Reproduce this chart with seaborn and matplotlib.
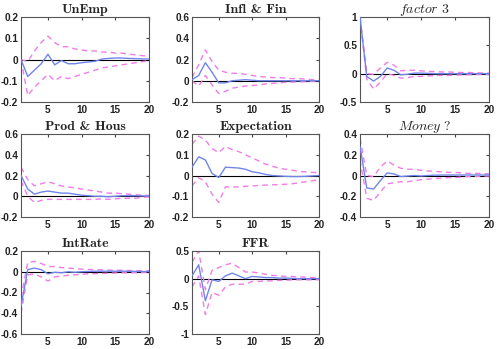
import numpy as np
import pandas as pd
import matplotlib
matplotlib.use("Agg")
import matplotlib.pyplot as plt
import seaborn as sns

horizon = list(range(1, 21))

titles = ["UnEmp", "Infl & Fin", "factor 3", "Prod & Hous", "Expectation",
          "Money ?", "IntRate", "FFR"]
italic_titles = ["factor 3", "Money ?"]

unemp_mid = [0, -0.08, -0.05, -0.02, 0.025, -0.025, -0.005, -0.02, -0.02, -0.015,
             -0.012, -0.008, 0.002, 0.005, 0.007, 0.007, 0.005, 0.004, 0.003, 0.002]
unemp_up = [0, -0.01, 0.04, 0.08, 0.11, 0.08, 0.06, 0.06, 0.05, 0.045,
            0.04, 0.04, 0.035, 0.035, 0.03, 0.03, 0.025, 0.022, 0.018, 0.015]
unemp_lo = [0, -0.17, -0.13, -0.10, -0.07, -0.10, -0.08, -0.09, -0.08, -0.07,
            -0.06, -0.05, -0.04, -0.035, -0.03, -0.025, -0.02, -0.015, -0.01, -0.005]

infl_mid = [0.01, 0.05, 0.17, 0.08, -0.02, -0.02, 0.0, 0.005, 0.01, 0.005,
            0.0, 0.0, 0.0, 0.0, 0.0, 0.0, 0.0, 0.0, 0.0, 0.0]
infl_up = [0.03, 0.15, 0.29, 0.18, 0.10, 0.08, 0.07, 0.07, 0.06, 0.05,
           0.04, 0.035, 0.03, 0.03, 0.025, 0.02, 0.02, 0.015, 0.01, 0.005]
infl_lo = [0.0, -0.05, 0.05, -0.04, -0.12, -0.10, -0.07, -0.06, -0.05, -0.045,
           -0.04, -0.03, -0.025, -0.02, -0.015, -0.012, -0.01, -0.008, -0.005, -0.003]

f3_mid = [1.0, -0.05, -0.13, -0.05, 0.10, 0.06, -0.02, -0.01, 0.01, 0.01,
          0.005, 0.0, 0.0, 0.0, 0.0, 0.0, 0.0, 0.0, 0.0, 0.0]
f3_up = [1.0, 0.0, -0.01, 0.10, 0.20, 0.15, 0.05, 0.06, 0.06, 0.05,
         0.04, 0.035, 0.03, 0.03, 0.025, 0.02, 0.02, 0.015, 0.012, 0.01]
f3_lo = [1.0, -0.10, -0.27, -0.15, 0.0, -0.03, -0.08, -0.07, -0.05, -0.05,
         -0.04, -0.035, -0.03, -0.03, -0.025, -0.02, -0.02, -0.015, -0.012, -0.01]

prod_mid = [0.20, 0.07, 0.02, 0.04, 0.05, 0.04, 0.03, 0.03, 0.02, 0.01,
            0.005, 0.0, 0.0, -0.005, 0.0, 0.005, 0.005, 0.005, 0.003, 0.002]
prod_up = [0.28, 0.16, 0.10, 0.12, 0.14, 0.12, 0.10, 0.09, 0.08, 0.07,
           0.06, 0.05, 0.04, 0.03, 0.03, 0.025, 0.02, 0.015, 0.01, 0.008]
prod_lo = [0.15, 0.0, -0.06, -0.04, -0.03, -0.03, -0.03, -0.03, -0.03, -0.03,
           -0.03, -0.03, -0.025, -0.03, -0.025, -0.02, -0.02, -0.02, -0.01, -0.005]

exp_mid = [0.04, 0.09, 0.075, 0.01, -0.01, 0.04, 0.038, 0.036, 0.03, 0.018,
           0.013, 0.005, 0.0, -0.002, -0.004, -0.005, -0.005, -0.004, -0.002, 0.0]
exp_up = [0.15, 0.19, 0.17, 0.13, 0.11, 0.14, 0.125, 0.115, 0.10, 0.085,
          0.07, 0.055, 0.045, 0.035, 0.03, 0.025, 0.02, 0.017, 0.015, 0.012]
exp_lo = [-0.05, -0.01, -0.03, -0.09, -0.13, -0.055, -0.055, -0.055, -0.052, -0.05,
          -0.048, -0.046, -0.045, -0.044, -0.042, -0.04, -0.035, -0.03, -0.025, -0.02]

money_mid = [0.28, -0.12, -0.13, -0.05, 0.025, 0.015, -0.01, -0.005, 0.0, -0.005,
             0.0, 0.003, 0.004, 0.005, 0.005, 0.005, 0.005, 0.005, 0.005, 0.005]
money_up = [0.36, 0.0, -0.01, 0.08, 0.14, 0.10, 0.07, 0.06, 0.06, 0.05,
            0.045, 0.04, 0.035, 0.03, 0.03, 0.025, 0.02, 0.02, 0.02, 0.015]
money_lo = [0.15, -0.22, -0.24, -0.16, -0.08, -0.07, -0.06, -0.06, -0.05, -0.04,
            -0.035, -0.03, -0.025, -0.02, -0.02, -0.015, -0.01, -0.01, -0.005, -0.005]

int_mid = [-0.33, 0.02, 0.035, 0.02, -0.02, -0.005, -0.01, 0.0, -0.005, 0.0,
           0.003, 0.005, 0.005, 0.005, 0.005, 0.005, 0.004, 0.003, 0.002, 0.002]
int_up = [-0.25, 0.09, 0.10, 0.08, 0.05, 0.05, 0.04, 0.035, 0.03, 0.025,
          0.022, 0.02, 0.018, 0.016, 0.015, 0.014, 0.012, 0.011, 0.01, 0.01]
int_lo = [-0.40, -0.03, -0.02, -0.05, -0.09, -0.05, -0.04, -0.035, -0.03, -0.025,
          -0.02, -0.018, -0.016, -0.014, -0.012, -0.01, -0.01, -0.008, -0.007, -0.006]

ffr_mid = [0.05, 0.25, -0.40, -0.02, -0.05, 0.05, 0.10, 0.05, 0.0, 0.04,
           0.03, 0.02, 0.02, 0.01, 0.01, 0.005, 0.0, 0.0, 0.0, 0.0]
ffr_up = [0.30, 0.50, -0.20, 0.15, 0.20, 0.25, 0.28, 0.20, 0.12, 0.12,
          0.10, 0.08, 0.06, 0.05, 0.04, 0.04, 0.03, 0.03, 0.02, 0.02]
ffr_lo = [-0.15, 0.05, -0.65, -0.25, -0.30, -0.15, -0.10, -0.10, -0.10, -0.05,
          -0.05, -0.04, -0.04, -0.03, -0.03, -0.02, -0.02, -0.02, -0.02, -0.015]

mids = [unemp_mid, infl_mid, f3_mid, prod_mid, exp_mid, money_mid, int_mid, ffr_mid]
ups = [unemp_up, infl_up, f3_up, prod_up, exp_up, money_up, int_up, ffr_up]
los = [unemp_lo, infl_lo, f3_lo, prod_lo, exp_lo, money_lo, int_lo, ffr_lo]

ylims = [(-0.2, 0.2), (-0.2, 0.6), (-0.5, 1.0), (-0.2, 0.6), (-0.2, 0.2),
         (-0.4, 0.4), (-0.6, 0.2), (-1.0, 0.5)]
yticks = [[-0.2, -0.1, 0, 0.1, 0.2], [-0.2, 0, 0.2, 0.4, 0.6], [-0.5, 0, 0.5, 1],
          [-0.2, 0, 0.2, 0.4, 0.6], [-0.2, -0.1, 0, 0.1, 0.2], [-0.4, -0.2, 0, 0.2, 0.4],
          [-0.6, -0.4, -0.2, 0, 0.2], [-1, -0.5, 0, 0.5]]

sns.set_style("white")
plt.rcParams['font.family'] = ['Liberation Sans', 'DejaVu Sans']
plt.rcParams['mathtext.fontset'] = 'cm'

fig = plt.figure(figsize=(4.97, 3.49), dpi=100)

lefts = [21, 192, 360]
widths = [128, 127, 129]
rows = [(17, 102), (134, 217), (251, 334)]
W, H = 497.0, 349.0

def fmt(v):
    if v == 0:
        return "0"
    return "%g" % v

band_color = "#f07de6"
line_color = "#7085ea"

for i in range(8):
    r, c = divmod(i, 3)
    top, bot = rows[r]
    ax = fig.add_axes([lefts[c] / W, 1 - bot / H, widths[c] / W, (bot - top) / H])
    df = pd.DataFrame({
        "h": horizon * 3,
        "v": mids[i] + ups[i] + los[i],
        "s": ["mid"] * 20 + ["up"] * 20 + ["lo"] * 20,
    })
    ax.axhline(0, color="black", lw=0.8, zorder=1)
    sns.lineplot(data=df[df.s != "mid"], x="h", y="v", units="s", estimator=None,
                 ax=ax, color=band_color, lw=1.0, zorder=2)
    for ln in ax.lines[1:]:
        ln.set_dashes([4, 3])
    sns.lineplot(data=df[df.s == "mid"], x="h", y="v", ax=ax, color=line_color,
                 lw=1.0, zorder=3)
    ax.set_xlim(1, 20)
    ax.set_ylim(*ylims[i])
    ax.set_xticks([5, 10, 15, 20])
    ax.set_yticks(yticks[i])
    ax.set_yticklabels([fmt(v) for v in yticks[i]])
    ax.set_xlabel("")
    ax.set_ylabel("")
    ax.tick_params(direction="in", length=2.5, labelsize=7.2, pad=2,
                   top=True, right=True, color="#444444")
    for lab in ax.get_xticklabels() + ax.get_yticklabels():
        lab.set_fontweight("bold")
        lab.set_color("#222222")
    for sp in ax.spines.values():
        sp.set_color("#555555")
        sp.set_linewidth(0.8)
    if titles[i] in italic_titles:
        t = "$\\mathit{" + titles[i].replace(" ", "\\ ") + "}$"
        ax.set_title(t, fontsize=10, pad=3)
    else:
        ax.set_title(titles[i], family=["cmb10", "DejaVu Serif"],
                     fontsize=10, pad=3)

fig.savefig("out.png", dpi=100)
